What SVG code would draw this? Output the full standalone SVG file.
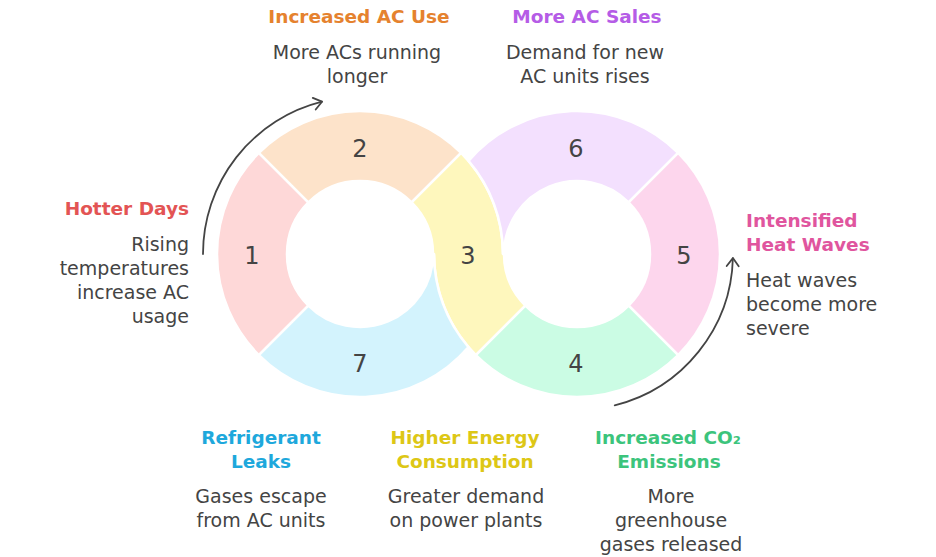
<svg xmlns="http://www.w3.org/2000/svg" width="936" height="557" viewBox="0 0 936 557">
<style>
.seg{stroke:#fff;stroke-width:2.5;stroke-linejoin:round}
.num{font-family:"DejaVu Sans",sans-serif;font-size:24px;fill:#444;text-anchor:middle}
.t{font-family:"DejaVu Sans",sans-serif;font-size:18.5px;font-weight:bold}
.b{font-family:"DejaVu Sans",sans-serif;font-size:19px;fill:#444}
.c{text-anchor:middle}
.r{text-anchor:end}
.l{text-anchor:start}
.arr{fill:none;stroke:#444;stroke-width:1.8;stroke-linecap:round}
</style>
<defs>
<marker id="ah" markerUnits="userSpaceOnUse" markerWidth="20" markerHeight="20" refX="0" refY="0" viewBox="-12 -10 20 20" orient="auto">
<path d="M-8,-6 L0,0 L-8,6" fill="none" stroke="#444" stroke-width="1.8" stroke-linecap="round" stroke-linejoin="round"/>
</marker>
</defs>
<rect width="936" height="557" fill="#fff"/>
<g id="connectors">
<path class="arr" d="M203,254 A157,157 0 0 1 322,101.7" marker-end="url(#ah)"/>
<path class="arr" d="M614.7,405.4 A156,156 0 0 0 732.9,258.1" marker-end="url(#ah)"/>
</g>
<g id="node1">
<path class="seg" fill="#FED8D8" d="M258.88,152.88 A143,143 0 0 0 258.88,355.12 L308.38,305.62 A73,73 0 0 1 308.38,202.38 Z"/>
<text class="num" x="252" y="264">1</text>
<text class="t r" x="189" y="215" fill="#E35454">Hotter Days</text>
<text class="b r" x="189"><tspan x="189" y="251">Rising</tspan><tspan x="189" y="275">temperatures</tspan><tspan x="189" y="299">increase AC</tspan><tspan x="189" y="323">usage</tspan></text>
</g>
<g id="node2">
<path class="seg" fill="#FDE3CA" d="M258.88,152.88 A143,143 0 0 1 461.12,152.88 L411.62,202.38 A73,73 0 0 0 308.38,202.38 Z"/>
<text class="num" x="360" y="157">2</text>
<text class="t c" x="359" y="23" fill="#E5822E">Increased AC Use</text>
<text class="b c"><tspan x="357" y="59">More ACs running</tspan><tspan x="357" y="83">longer</tspan></text>
</g>
<g id="node3">
<path class="seg" fill="#FEF7BD" d="M461.12,152.88 A143,143 0 0 1 503,254 L504,254 A73,73 0 0 0 525.38,305.62 L475.88,355.12 A143,143 0 0 1 434,254 L433,254 A73,73 0 0 0 411.62,202.38 Z"/>
<text class="num" x="468" y="264">3</text>
<text class="t c" fill="#DDC716"><tspan x="465" y="444">Higher Energy</tspan><tspan x="465" y="468">Consumption</tspan></text>
<text class="b c"><tspan x="466" y="503">Greater demand</tspan><tspan x="466" y="527">on power plants</tspan></text>
</g>
<g id="node7">
<path class="seg" fill="#D3F3FD" d="M308.38,305.62 L258.88,355.12 A143,143 0 0 0 468.5,347.15 A143,143 0 0 1 434,254 L433,254 A73,73 0 0 1 308.38,305.62 Z"/>
<text class="num" x="360" y="372">7</text>
<text class="t c" fill="#1EA8DC"><tspan x="261" y="444">Refrigerant</tspan><tspan x="261" y="468">Leaks</tspan></text>
<text class="b c"><tspan x="261" y="503">Gases escape</tspan><tspan x="261" y="527">from AC units</tspan></text>
</g>
<g id="node6">
<path class="seg" fill="#F3E0FE" d="M628.62,202.38 L678.12,152.88 A143,143 0 0 0 468.5,160.85 A143,143 0 0 1 503,254 L504,254 A73,73 0 0 1 628.62,202.38 Z"/>
<text class="num" x="576" y="157">6</text>
<text class="t c" x="587" y="23" fill="#B55CE6">More AC Sales</text>
<text class="b c"><tspan x="585" y="59">Demand for new</tspan><tspan x="585" y="83">AC units rises</tspan></text>
</g>
<g id="node5">
<path class="seg" fill="#FDD6ED" d="M678.12,152.88 A143,143 0 0 1 678.12,355.12 L628.62,305.62 A73,73 0 0 0 628.62,202.38 Z"/>
<text class="num" x="684" y="264">5</text>
<text class="t l" fill="#E0559E"><tspan x="746" y="227">Intensified</tspan><tspan x="746" y="251">Heat Waves</tspan></text>
<text class="b l"><tspan x="746" y="287">Heat waves</tspan><tspan x="746" y="311">become more</tspan><tspan x="746" y="335">severe</tspan></text>
</g>
<g id="node4">
<path class="seg" fill="#CBFCE4" d="M678.12,355.12 A143,143 0 0 1 475.88,355.12 L525.38,305.62 A73,73 0 0 0 628.62,305.62 Z"/>
<text class="num" x="576" y="372">4</text>
<text class="t c" fill="#3CC47C"><tspan x="668" y="444">Increased CO₂</tspan><tspan x="669" y="468">Emissions</tspan></text>
<text class="b c"><tspan x="671" y="503">More</tspan><tspan x="671" y="527">greenhouse</tspan><tspan x="671" y="551">gases released</tspan></text>
</g>
</svg>
